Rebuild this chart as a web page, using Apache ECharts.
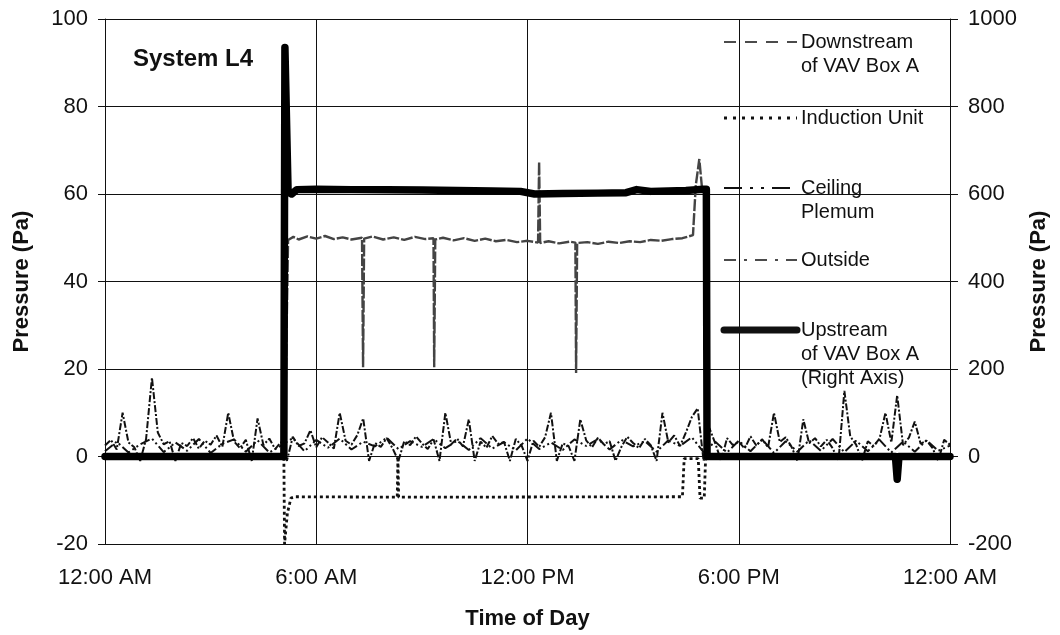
<!DOCTYPE html>
<html>
<head>
<meta charset="utf-8">
<title>System L4 pressures</title>
<script src="https://cdn.jsdelivr.net/npm/echarts@6/dist/echarts.min.js"></script>
<style>
  html, body { margin: 0; padding: 0; background: #fff; }
  #chart { width: 1060px; height: 635px; }
</style>
</head>
<body>
<div id="chart"></div>
<script>
// Hour-of-day tick labels (axis runs 0..24 h)
const timeLabels = ['12:00 AM', '6:00 AM', '12:00 PM', '6:00 PM', '12:00 AM'];

// Outside pressure, Pa, sampled every 10 minutes
const outsideStepHours = 1 / 6;
const outsideValues = [
  2.5, 3.8, 1.6, 10, 3.2, 2.1, -1, 4.0, 18, 5.5, 2.8, 3.5,
  -1, 3.1, 2.4, 4.2, 1.8, 3.6, 2.7, 4.8, 2.2, 10, 3.4, 1.9,
  3.8, -1, 8.7, 2.6, 4.1, 1.7, 3.3, -1, 4.5, 2.4, 3.0, 6.0,
  2.1, 4.4, 3.2, 1.8, 10, 3.6, 2.7, 4.9, 8.7, -1, 3.1, 2.2,
  4.2, 1.9, -1, 3.5, 2.6, 4.6, 3.0, 1.7, 3.9, -1, 10, 2.8,
  4.1, 2.3, 8.5, -1, 3.4, 2.0, 4.7, 2.9, 3.3, -1, 4.0, 2.5,
  -1, 3.6, 2.2, 4.4, 10, -1, 3.0, 2.4, -1, 8.5, 3.7, 2.1,
  4.3, 2.8, 3.5, -1, 2.2, 4.5, 3.1, 1.9, 4.0, 2.6, -1, 10,
  3.2, 4.8, 2.4, 5.5, 9, 11, -1, 6.5, 3.0, -1, 4.2, 2.6,
  3.4, 1.8, 4.6, 2.5, 3.9, 2.1, 10, 3.3, 4.4, 2.2, -1, 8.5,
  3.0, 4.2, 2.3, 3.8, 1.9, -1, 15, 4.6, 2.7, -1, 3.5, 2.4,
  4.1, 10, 3.2, 14, 2.6, 4.3, 8, 2.9, 3.6, 2.0, -1, 3.8,
  2.7
];

// Ceiling plenum pressure, Pa, sampled every 20 minutes
const ceilingStepHours = 1 / 3;
const ceilingValues = [
  1.2, 3.4, 0.9, 2.8, 4.1, 1.0, 3.2, 1.3, 4.0,
  0.8, 2.9, 3.9, 1.1, 3.7, 0.9, 2.5, 4.2, 1.2,
  3.8, 2.0, 4.1, 1.6, 3.4, 2.3, 4.3, 1.7, 3.5,
  2.2, 4.0, 1.9, 3.6, 1.5, 4.2, 1.8, 3.3, 1.4,
  4.1, 1.7, 3.2, 1.5, 3.9, 2.4, 4.0, 1.6, 3.8,
  2.3, 3.5, 1.1, 3.7, 2.4, 4.4, 1.0, 3.4, 0.9,
  3.6, 1.2, 3.9, 0.8, 3.5, 1.1, 3.7, 1.3, 4.0,
  1.0, 3.6, 1.2, 3.8, 0.9, 3.4, 1.1, 3.7, 1.3,
  2.5
];

// Downstream of VAV Box A, Pa
const downstreamHours = [
  0, 5.1, 5.2, 5.35, 5.5, 5.75, 6.0, 6.25, 6.5, 6.75, 7.0, 7.3, 7.33, 7.36,
  7.6, 7.9, 8.2, 8.5, 8.8, 9.1, 9.33, 9.35, 9.38, 9.6, 9.9, 10.2, 10.5, 10.8,
  11.1, 11.4, 11.7, 12.0, 12.3, 12.33, 12.36, 12.6, 12.9, 13.2, 13.36, 13.38, 13.41,
  13.7, 14.0, 14.3, 14.6, 14.9, 15.2, 15.5, 15.8, 16.1, 16.4, 16.7, 16.78, 16.88,
  16.96, 17.05, 17.1, 24
];
const downstreamValues = [
  0, 0, 49.5, 50.2, 49.6, 50.3, 49.8, 50.4, 49.7, 50.1, 49.6, 50.0, 20.4, 49.8,
  50.3, 49.6, 50.1, 49.5, 50.2, 49.7, 49.9, 20.4, 49.6, 50.0, 49.4, 49.9, 49.3, 49.8,
  49.2, 49.5, 49.0, 49.3, 48.9, 67.3, 48.8, 49.2, 48.7, 49.1, 48.9, 19.1, 48.8,
  49.0, 48.6, 49.1, 48.8, 49.2, 49.0, 49.5, 49.3, 49.7, 49.9, 50.6, 62, 68,
  61, 60, 0, 0
];

// Induction unit, Pa
const inductionHours = [0, 5.08, 5.1, 5.18, 5.28, 5.4, 8.3, 8.32, 8.34, 16.4, 16.45, 16.85, 16.9, 17.02, 17.06, 24];
const inductionValues = [0, 0, -20, -13, -9.5, -9.2, -9.3, 0, -9.3, -9.2, -0.5, -0.5, -9.5, -9.5, 0, 0];

// Upstream of VAV Box A, Pa (right axis)
const upstreamHours = [0, 5.08, 5.11, 5.2, 5.3, 5.45, 6, 7, 8, 9, 10, 11, 11.8, 12.2, 13, 14, 14.8, 15.1, 15.5, 16, 16.5, 17.0, 17.08, 17.1, 22.45, 22.5, 22.55, 24];
const upstreamValues = [0, 0, 935, 605, 600, 610, 611, 610, 610, 609, 608, 607, 606, 600, 601, 602, 603, 610, 606, 607, 608, 611, 611, 0, 0, -52, 0, 0];

const zipPairs = (xs, ys) => xs.map((x, i) => [x, ys[i]]);
const stepPairs = (step, ys) => ys.map((y, i) => [i * step, y]);

const FONT = "'Liberation Sans', Arial, Helvetica, sans-serif";
const INK = '#111';

const chart = echarts.init(document.getElementById('chart'), null, { renderer: 'canvas' });

// Legend samples drawn beside the plot's right edge
const legendItems = [
  { y: 42,  text: 'Downstream\nof VAV Box A', dash: [12, 9], width: 1.6 },
  { y: 118, text: 'Induction Unit', dash: [3, 6], width: 3 },
  { y: 188, text: 'Ceiling\nPlemum', dash: [18, 8, 3, 8, 3, 8], width: 2.2 },
  { y: 260, text: 'Outside', dash: [12, 8, 3, 8], width: 1.6 },
  { y: 330, text: 'Upstream\nof VAV Box A\n(Right Axis)', dash: null, width: 7 }
];
const legendGraphics = [];
legendItems.forEach(it => {
  legendGraphics.push({
    type: 'line',
    shape: { x1: 724, y1: it.y, x2: 797, y2: it.y },
    style: { stroke: INK, lineWidth: it.width, lineDash: it.dash || null, lineCap: it.dash ? 'butt' : 'round' },
    z: 100
  });
  legendGraphics.push({
    type: 'text',
    x: 801,
    y: it.y - 12,
    style: { text: it.text, font: '20px ' + FONT, fill: INK, lineHeight: 24, verticalAlign: 'top', align: 'left' },
    z: 100
  });
});

const option = {
  backgroundColor: '#fff',
  animation: false,
  title: {
    text: 'System L4',
    left: 128, top: 42,
    textStyle: { fontFamily: FONT, fontSize: 24, fontWeight: 'bold', color: INK }
  },
  grid: { left: 105, right: 110, top: 19, bottom: 89 },
  xAxis: {
    type: 'value',
    min: 0, max: 24, interval: 6,
    name: 'Time of Day',
    nameLocation: 'middle',
    nameGap: 64,
    nameTextStyle: { fontFamily: FONT, fontSize: 22, fontWeight: 'bold', color: INK },
    axisLine: { show: true, onZero: false, lineStyle: { color: INK, width: 1 } },
    axisTick: { show: false },
    axisLabel: {
      margin: 23, fontFamily: FONT, fontSize: 22, color: INK,
      formatter: v => timeLabels[Math.round(v / 6)]
    },
    splitLine: { show: true, lineStyle: { color: INK, width: 1 } }
  },
  yAxis: [
    {
      type: 'value', min: -20, max: 100, interval: 20,
      position: 'left',
      name: 'Pressure (Pa)', nameLocation: 'middle', nameGap: 72, nameRotate: 90,
      nameTextStyle: { fontFamily: FONT, fontSize: 22, fontWeight: 'bold', color: INK },
      axisLine: { show: true, onZero: false, lineStyle: { color: INK, width: 1 } },
      axisTick: { show: true, length: 7, lineStyle: { color: INK } },
      axisLabel: { margin: 17, fontFamily: FONT, fontSize: 22, color: INK },
      splitLine: { show: true, lineStyle: { color: INK, width: 1 } }
    },
    {
      type: 'value', min: -200, max: 1000, interval: 200,
      position: 'right',
      name: 'Pressure (Pa)', nameLocation: 'middle', nameGap: 72, nameRotate: 90,
      nameTextStyle: { fontFamily: FONT, fontSize: 22, fontWeight: 'bold', color: INK },
      axisLine: { show: true, onZero: false, lineStyle: { color: INK, width: 1 } },
      axisTick: { show: true, length: 8, lineStyle: { color: INK } },
      axisLabel: { margin: 18, fontFamily: FONT, fontSize: 22, color: INK, formatter: v => String(v) },
      splitLine: { show: false }
    }
  ],
  graphic: legendGraphics,
  series: [
    {
      name: 'Outside', type: 'line', yAxisIndex: 0, showSymbol: false,
      data: stepPairs(outsideStepHours, outsideValues),
      lineStyle: { color: INK, width: 2, type: [7, 2, 2, 2] }, z: 3
    },
    {
      name: 'Ceiling Plemum', type: 'line', yAxisIndex: 0, showSymbol: false,
      data: stepPairs(ceilingStepHours, ceilingValues),
      lineStyle: { color: INK, width: 2, type: [10, 3, 2, 3, 2, 3] }, z: 3
    },
    {
      name: 'Downstream of VAV Box A', type: 'line', yAxisIndex: 0, showSymbol: false,
      data: zipPairs(downstreamHours, downstreamValues),
      lineStyle: { color: '#444', width: 2.4, type: [12, 2] }, z: 4
    },
    {
      name: 'Induction Unit', type: 'line', yAxisIndex: 0, showSymbol: false,
      data: zipPairs(inductionHours, inductionValues),
      lineStyle: { color: INK, width: 2.8, type: [3, 3] }, z: 4
    },
    {
      name: 'Upstream of VAV Box A (Right Axis)', type: 'line', yAxisIndex: 1, showSymbol: false,
      data: zipPairs(upstreamHours, upstreamValues),
      lineStyle: { color: '#000', width: 7.5, cap: 'round', join: 'round' }, z: 5
    }
  ]
};

chart.setOption(option);
</script>
</body>
</html>
